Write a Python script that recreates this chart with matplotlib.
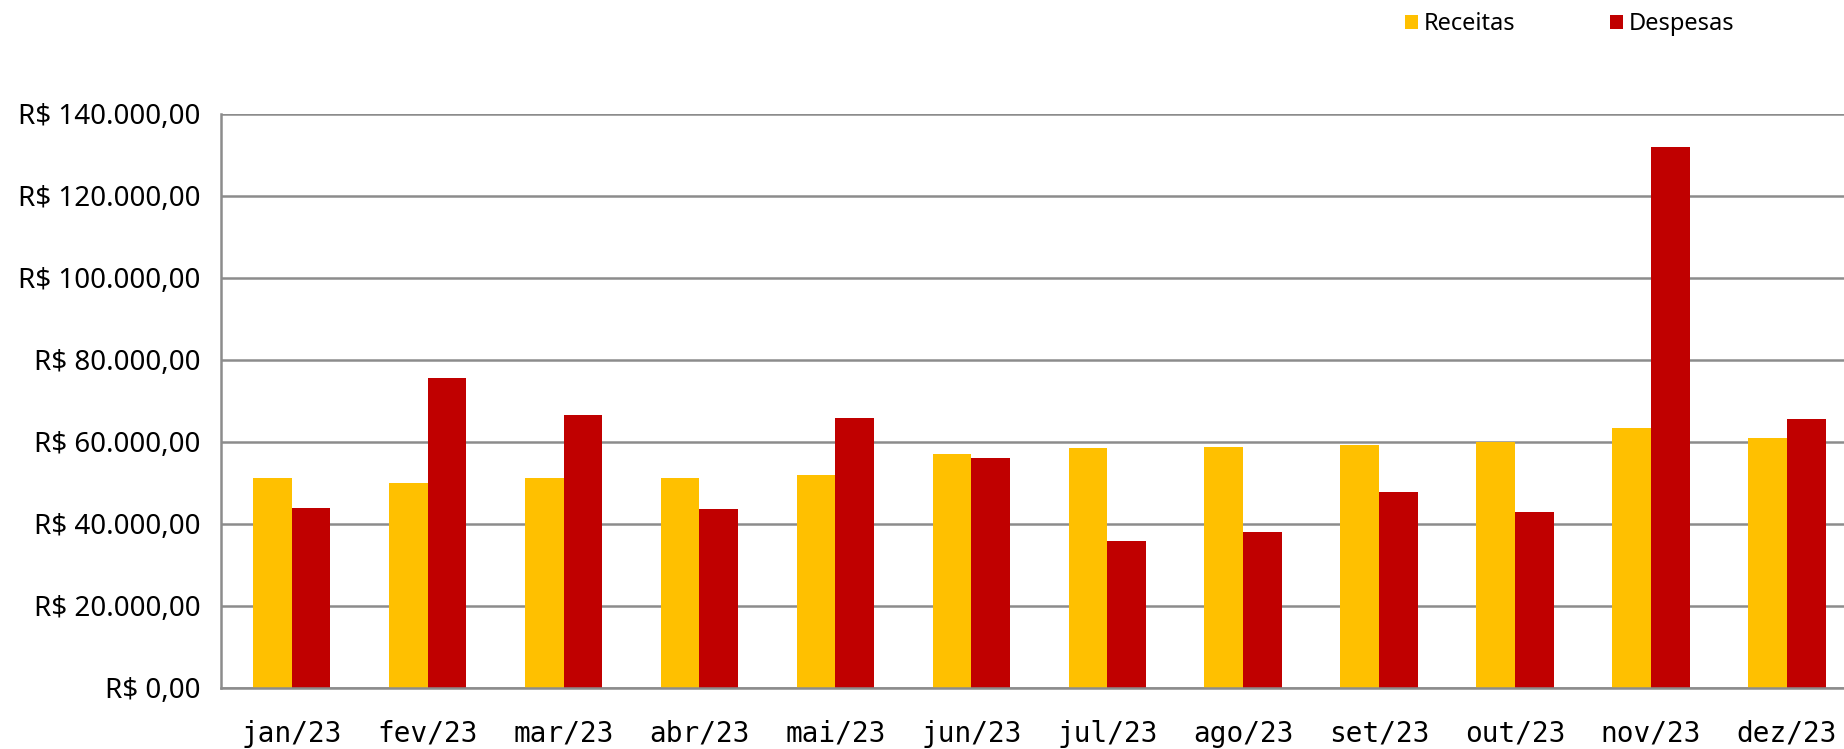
import matplotlib
matplotlib.use("Agg")
import matplotlib.pyplot as plt
import numpy as np
from matplotlib.ticker import FuncFormatter, MultipleLocator

meses = ["jan/23", "fev/23", "mar/23", "abr/23", "mai/23", "jun/23",
         "jul/23", "ago/23", "set/23", "out/23", "nov/23", "dez/23"]

# valores (R$)
receitas = [51200, 49900, 51100, 51200, 51900, 57100,
            58500, 58900, 59300, 59900, 63500, 61000]
despesas = [43900, 75600, 66500, 43600, 65800, 56000,
            35800, 38000, 47700, 42900, 132000, 65600]

cor_receitas = "#FFC000"
cor_despesas = "#C00000"
cinza = "#8C8C8C"


def reais(v, pos):
    s = f"{v:,.2f}"
    s = s.replace(",", "X").replace(".", ",").replace("X", ".")
    return "R$ " + s


fig = plt.figure(figsize=(18.44, 7.49), dpi=100)
ax = fig.add_axes([221 / 1844, 1 - 688 / 749, 1 - 221 / 1844, (688 - 114) / 749])

x = np.arange(len(meses))
w = 0.285
ax.bar(x - w / 2, receitas, w, color=cor_receitas, label="Receitas")
ax.bar(x + w / 2, despesas, w, color=cor_despesas, label="Despesas")

ax.set_xlim(-0.52, 11.42)
ax.set_ylim(0, 140000)
ax.yaxis.set_major_locator(MultipleLocator(20000))
ax.yaxis.set_major_formatter(FuncFormatter(reais))
ax.set_xticks(x)
ax.set_xticklabels(meses, family="DejaVu Sans Mono", fontsize=20)

ax.set_axisbelow(True)
ax.grid(axis="y", color=cinza, linewidth=1.8)
for s in ["top", "right"]:
    ax.spines[s].set_visible(False)
for s in ["left", "bottom"]:
    ax.spines[s].set_color(cinza)
    ax.spines[s].set_linewidth(1.8)

ax.tick_params(axis="both", length=0)
ax.tick_params(axis="y", pad=15, labelsize=20)
ax.tick_params(axis="x", pad=23)
for lbl in ax.get_yticklabels():
    lbl.set_family("Noto Sans")

fig.legend(loc="center left", bbox_to_anchor=(1405 / 1844, 1 - 24 / 749),
           ncol=2, frameon=False, prop={"family": "Noto Sans", "size": 17},
           handlelength=0.55, handleheight=0.55, handletextpad=0.25,
           columnspacing=4.0, borderpad=0, borderaxespad=0)

fig.savefig("out.png", dpi=100)
